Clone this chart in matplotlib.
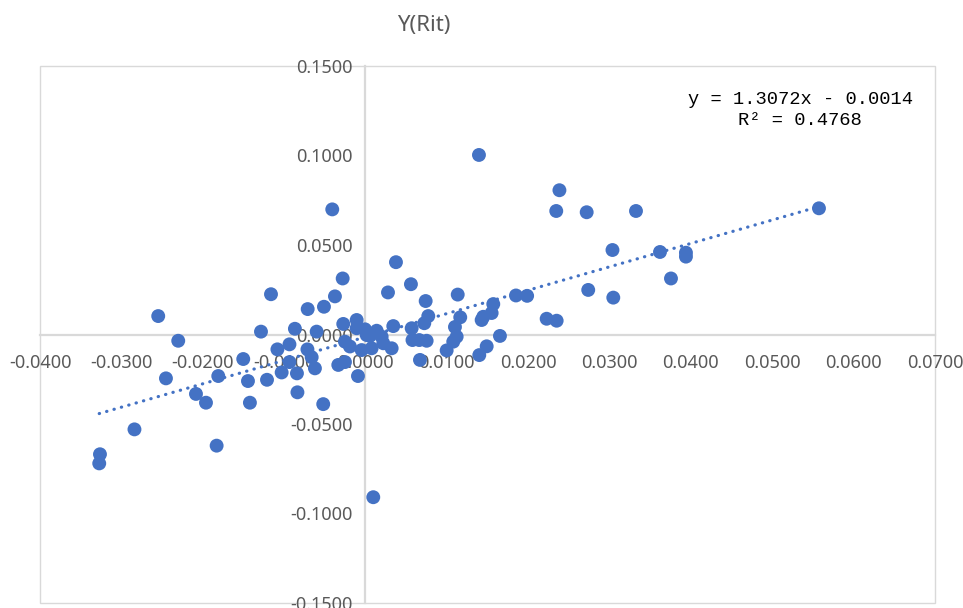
import numpy as np
import matplotlib
matplotlib.use("Agg")
import matplotlib.pyplot as plt

# ---- data ----
x_vals = [
    -0.03272, -0.03263, -0.02839, -0.02547, -0.02452, -0.02301, -0.02083, -0.01960,
    -0.01829, -0.01809, -0.01502, -0.01444, -0.01420, -0.01284, -0.01161, -0.01210,
    -0.01082, -0.01030, -0.00934, -0.00867, -0.00842, -0.00836, -0.00934, -0.00710,
    -0.00713, -0.00661, -0.00600, -0.00621, -0.00510, -0.00519, -0.00408, -0.00375,
    -0.00280, -0.00273, -0.00334, -0.00252, -0.00252, -0.00191, -0.00108, -0.00108,
    -0.00006, -0.00092, -0.00047, 0.00076, 0.00138, 0.00199, 0.00219, 0.00096,
    0.00277, 0.00322, 0.00342, 0.00375, 0.00559, 0.00568, 0.00578, 0.00661,
    0.00670, 0.00723, 0.00740, 0.00752, 0.00772, 0.00998, 0.01079, 0.01100,
    0.01121, 0.01134, 0.01165, 0.01395, 0.01399, 0.01428, 0.01490, 0.01448,
    0.01551, 0.01571, 0.01653, 0.01850, 0.01987, 0.02227, 0.02350, 0.02345,
    0.02384, 0.02719, 0.02738, 0.03036, 0.03046, 0.03325, 0.03620, 0.03755,
    0.03939, 0.03939, 0.05574, 0.00015, 0.00055,
]
y_vals = [
    -0.0720, -0.0669, -0.0530, 0.0103, -0.0245, -0.0035, -0.0332, -0.0381,
    -0.0621, -0.0232, -0.0137, -0.0260, -0.0381, 0.0016, 0.0225, -0.0253,
    -0.0083, -0.0212, -0.0055, 0.0032, -0.0217, -0.0323, -0.0154, 0.0142,
    -0.0083, -0.0127, 0.0016, -0.0189, 0.0155, -0.0389, 0.0699, 0.0213,
    0.0313, 0.0059, -0.0170, -0.0154, -0.0040, -0.0067, 0.0081, 0.0035,
    0.0029, -0.0232, -0.0087, -0.0077, 0.0021, -0.0012, -0.0049, -0.0909,
    0.0235, -0.0077, 0.0047, 0.0404, 0.0281, 0.0035, -0.0031, -0.0031,
    -0.0142, 0.0063, 0.0187, -0.0035, 0.0103, -0.0089, -0.0040, 0.0042,
    -0.0012, 0.0223, 0.0096, 0.1003, -0.0115, 0.0081, -0.0066, 0.0099,
    0.0120, 0.0170, -0.0008, 0.0218, 0.0216, 0.0088, 0.0077, 0.0690,
    0.0806, 0.0683, 0.0249, 0.0472, 0.0206, 0.0690, 0.0461, 0.0313,
    0.0457, 0.0435, 0.0705, -0.0003, -0.0008,
]
trend_slope = 1.3072
trend_intercept = -0.0014
r_squared = 0.4768
title_text = "Y(Rit)"
x_ticks = [-0.04, -0.03, -0.02, -0.01, 0.0, 0.01, 0.02, 0.03, 0.04, 0.05, 0.06, 0.07]
y_ticks = [-0.15, -0.10, -0.05, 0.0, 0.05, 0.10, 0.15]

# ---- drawing ----
W, H = 963, 608
fig = plt.figure(figsize=(W / 100, H / 100), dpi=100)
ax = fig.add_axes([40 / W, (H - 603) / H, 895 / W, 537 / H])

blue = "#4472C4"
grey_txt = "#595959"
line_grey = "#d9d9d9"

xs = np.array(x_vals)
ys = np.array(y_vals)
ax.scatter(xs, ys, s=100, color=blue, edgecolors="none", zorder=3, clip_on=False)

tx = np.array([xs.min(), xs.max()])
ax.plot(tx, trend_slope * tx + trend_intercept, color=blue, lw=2.3,
        linestyle=(0, (0.1, 2.3)), dash_capstyle="round", zorder=4)

ax.set_xlim(-0.04, 0.07)
ax.set_ylim(-0.15, 0.15)
ax.set_xticks(x_ticks)
ax.set_yticks(y_ticks)
ax.set_xticklabels([f"{v:.4f}" for v in x_ticks])
ax.set_yticklabels([f"{v:.4f}" for v in y_ticks])

ax.spines["left"].set_position(("data", 0.0))
ax.spines["bottom"].set_position(("data", 0.0))
ax.spines["right"].set_visible(False)
ax.spines["top"].set_visible(False)
for s in ("left", "bottom"):
    ax.spines[s].set_color(line_grey)
    ax.spines[s].set_linewidth(1.6)
    ax.spines[s].set_zorder(1)

# plot-area border
border = plt.Rectangle((0, 0), 1, 1, transform=ax.transAxes, fill=False,
                       edgecolor=line_grey, lw=1.0, zorder=0, clip_on=False)
ax.add_patch(border)

font = ["Noto Sans", "DejaVu Sans"]
ax.tick_params(axis="both", length=0, labelsize=13, labelcolor=grey_txt)
ax.tick_params(axis="x", pad=14)
ax.tick_params(axis="y", pad=9)
for lab in ax.get_xticklabels() + ax.get_yticklabels():
    lab.set_family(font)

fig.text(424 / W, 1 - 25 / H, title_text, ha="center", va="center",
         fontsize=16, color=grey_txt, family=font)

eq = f"y = {trend_slope:.4f}x - {abs(trend_intercept):.4f}\nR\u00b2 = {r_squared:.4f}"
fig.text(800 / W, 1 - 110 / H, eq, ha="center", va="center", fontsize=13.5,
         color="#000000", family=["Liberation Mono", "DejaVu Sans Mono"],
         linespacing=1.25, multialignment="center")

fig.savefig("out.png", dpi=100)
